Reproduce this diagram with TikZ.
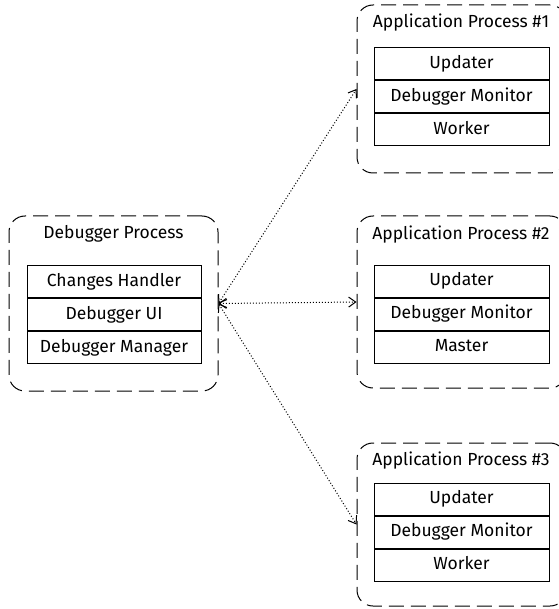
\documentclass[tikz,border=0pt]{standalone}
\usepackage{fontspec}
\setmainfont{Fira Sans}
\usetikzlibrary{arrows.meta}
\begin{document}
\begin{tikzpicture}[x=1pt,y=-1pt,
  font=\fontsize{17.5}{19}\selectfont,
  process/.style={draw,dashed,dash pattern=on 15pt off 7pt,line width=1pt,
    rounded corners=16pt,minimum width=209pt,inner sep=0pt},
  title/.style={inner sep=0pt,anchor=base},
  row/.style={draw,line width=1pt,minimum width=175pt,minimum height=32pt,
    inner sep=0pt,text height=0.95em,text depth=0em},
  link/.style={line width=1pt,dash pattern=on 1pt off 2pt,
    {Straight Barb[length=7pt,width=10pt]}-{Straight Barb[length=7pt,width=10pt]}}
]
\useasboundingbox (0,0) rectangle (558,609);

% Debugger process
\node[process,minimum height=175pt] (dbg) at (113.5,303.5) {};
\node[title] (dbgT) at (113.5,238) {Debugger Process};
\node[row,minimum width=174pt] (d1) at (114,281.5) {Changes Handler};
\node[row,minimum width=174pt,anchor=north] (d2) at (d1.south) {Debugger UI};
\node[row,minimum width=174pt,anchor=north] (d3) at (d2.south) {Debugger Manager};

% Application process 1
\node[process,minimum height=168pt] (ap1) at (461.5,89) {};
\node[title] (ap1T) at (461,28) {Application Process \#1};
\node[row] (a11) at (461.5,64) {Updater};
\node[row,anchor=north] (a12) at (a11.south) {Debugger Monitor};
\node[row,anchor=north] (a13) at (a12.south) {Worker};

% Application process 2
\node[process,minimum height=172pt] (ap2) at (461.5,302) {};
\node[title] (ap2T) at (461,240) {Application Process \#2};
\node[row] (a21) at (461.5,281) {Updater};
\node[row,anchor=north] (a22) at (a21.south) {Debugger Monitor};
\node[row,anchor=north] (a23) at (a22.south) {Master};

% Application process 3
\node[process,minimum height=163pt] (ap3) at (461.5,524.5) {};
\node[title] (ap3T) at (461,465) {Application Process \#3};
\node[row] (a31) at (461.5,499) {Updater};
\node[row,anchor=north] (a32) at (a31.south) {Debugger Monitor};
\node[row,anchor=north] (a33) at (a32.south) {Worker};

% Links between the debugger and each application
\draw[link] (dbg.east) -- (ap1.west);
\draw[link] (dbg.east) -- (ap2.west);
\draw[link] (dbg.east) -- (ap3.west);
\end{tikzpicture}
\end{document}
